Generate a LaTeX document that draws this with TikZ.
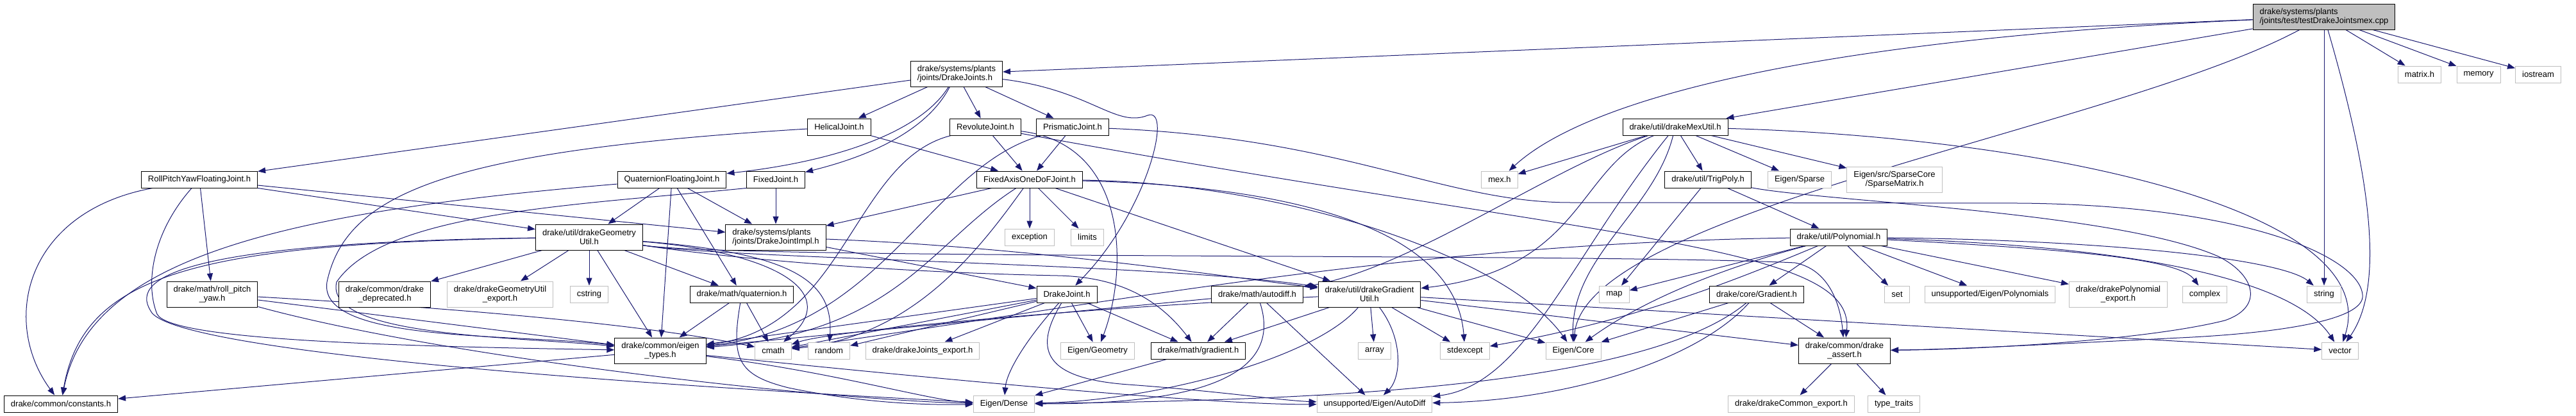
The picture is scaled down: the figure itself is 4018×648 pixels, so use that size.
\documentclass[tikz,border=0pt]{standalone}
\usepackage{fontspec}
\setmainfont{Liberation Sans}
\usetikzlibrary{arrows.meta}
\definecolor{edgec}{RGB}{25,25,112}
\definecolor{grayb}{RGB}{191,191,191}
\pgfdeclarelayer{bg}
\pgfsetlayers{bg,main}
\begin{document}
\begin{tikzpicture}[x=1pt,y=-1pt,
  nbox/.style={draw=black, fill=white, line width=1pt, font=\fontsize{13}{14.5}\selectfont,
    inner xsep=10.5pt, inner ysep=0pt, minimum height=26pt, align=center},
  ntall/.style={minimum height=40pt},
  nsys/.style={nbox, draw=grayb},
  arr/.style={draw=edgec, line width=1pt, -{Triangle[length=12pt,width=9pt]}}]
\useasboundingbox (0,0) rectangle (4018,648);

% row 0
\node[nbox, ntall, fill=grayb, align=left] (cpp) at (3625,26) {drake/systems/plants\\/joints/test/testDrakeJointsmex.cpp};
% row 1
\node[nbox, ntall, align=left] (DJs) at (1492,115) {drake/systems/plants\\/joints/DrakeJoints.h};
\node[nsys] (matrix) at (3774,116) {matrix.h};
\node[nsys] (memory) at (3866,116) {memory};
\node[nsys] (iostream) at (3959,116) {iostream};
% row 2
\node[nbox] (helical) at (1309,198) {HelicalJoint.h};
\node[nbox] (revolute) at (1537,198) {RevoluteJoint.h};
\node[nbox] (prismatic) at (1673,198) {PrismaticJoint.h};
\node[nbox] (mexutil) at (2613,198) {drake/util/drakeMexUtil.h};
% row 3
\node[nbox] (rpy) at (311,280) {RollPitchYawFloatingJoint.h};
\node[nbox] (quat) at (1048,280) {QuaternionFloatingJoint.h};
\node[nbox] (fixed) at (1210,280) {FixedJoint.h};
\node[nbox] (faodj) at (1606,280) {FixedAxisOneDoFJoint.h};
\node[nsys] (mex) at (2339,280) {mex.h};
\node[nbox] (trigpoly) at (2664,280) {drake/util/TrigPoly.h};
\node[nsys] (esparse) at (2807,280) {Eigen/Sparse};
\node[nsys, ntall] (esm) at (2955,280) {Eigen/src/SparseCore\\/SparseMatrix.h};
% row 4
\node[nbox, ntall] (geom) at (919,370) {drake/util/drakeGeometry\\Util.h};
\node[nbox, ntall, align=left] (impl) at (1210,370) {drake/systems/plants\\/joints/DrakeJointImpl.h};
\node[nsys] (exception) at (1606,370) {exception};
\node[nsys] (limits) at (1696,370) {limits};
\node[nbox] (poly) at (2868,370) {drake/util/Polynomial.h};
% row 5
\node[nbox, ntall] (rpyh) at (331,459) {drake/math/roll\_pitch\\\_yaw.h};
\node[nbox, ntall] (deprecated) at (600,459) {drake/common/drake\\\_deprecated.h};
\node[nsys, ntall] (geomexport) at (780,459) {drake/drakeGeometryUtil\\\_export.h};
\node[nsys] (cstring) at (919,459) {cstring};
\node[nbox] (quath) at (1157,459) {drake/math/quaternion.h};
\node[nbox] (dj) at (1664,459) {DrakeJoint.h};
\node[nbox] (autodiff) at (1961,459) {drake/math/autodiff.h};
\node[nbox, ntall] (gradutil) at (2136,459) {drake/util/drakeGradient\\Util.h};
\node[nsys] (map) at (2518,459) {map};
\node[nbox] (coregrad) at (2740,459) {drake/core/Gradient.h};
\node[nsys] (set) at (2959,459) {set};
\node[nsys] (polys) at (3104,459) {unsupported/Eigen/Polynomials};
\node[nsys, ntall] (polyexp) at (3304,459) {drake/drakePolynomial\\\_export.h};
\node[nsys] (complex) at (3439,459) {complex};
\node[nsys] (string) at (3625,459) {string};
% row 6
\node[nbox, ntall] (eigentypes) at (1030,547) {drake/common/eigen\\\_types.h};
\node[nsys] (cmath) at (1206,547) {cmath};
\node[nsys] (random) at (1293,547) {random};
\node[nsys] (djexport) at (1439,547) {drake/drakeJoints\_export.h};
\node[nsys] (egeom) at (1712,547) {Eigen/Geometry};
\node[nbox] (gradient) at (1869,547) {drake/math/gradient.h};
\node[nsys] (array) at (2144,547) {array};
\node[nsys] (stdexcept) at (2285,547) {stdexcept};
\node[nsys] (ecore) at (2454,547) {Eigen/Core};
\node[nbox, ntall] (assert) at (2877,547) {drake/common/drake\\\_assert.h};
\node[nsys] (vector) at (3650,547) {vector};
% row 7
\node[nbox] (constants) at (95,630) {drake/common/constants.h};
\node[nsys] (dense) at (1566,630) {Eigen/Dense};
\node[nsys] (autodiffu) at (2144,630) {unsupported/Eigen/AutoDiff};
\node[nsys] (commonexport) at (2794,630) {drake/drakeCommon\_export.h};
\node[nsys] (typetraits) at (2954,630) {type\_traits};

\begin{pgfonlayer}{bg}
% cpp
\draw[arr] (cpp) -- (DJs);
\draw[arr] (cpp) .. controls (2850,60) and (2480,150) .. (mex);
\draw[arr] (cpp) -- (mexutil);
\draw[arr] (cpp) .. controls (3300,200) and (2470,330) .. (ecore);
\draw[arr] (cpp) -- (string);
\draw[arr] (cpp) .. controls (3690,250) and (3725,440) .. (vector);
\draw[arr] (cpp) -- (matrix);
\draw[arr] (cpp) -- (memory);
\draw[arr] (cpp) -- (iostream);
% DrakeJoints.h
\draw[arr] (DJs) -- (rpy);
\draw[arr] (DJs) -- (helical);
\draw[arr] (DJs) -- (revolute);
\draw[arr] (DJs) -- (prismatic);
\draw[arr] (DJs) .. controls (1440,200) and (1320,250) .. (quat);
\draw[arr] (DJs) .. controls (1440,215) and (1330,250) .. (fixed);
\draw[arr] (DJs) .. controls (1700,140) and (1740,200) .. (1790,180) .. controls (1830,165) and (1790,330) .. (dj);
% drakeMexUtil.h
\draw[arr] (mexutil) -- (mex);
\draw[arr] (mexutil) -- (trigpoly);
\draw[arr] (mexutil) -- (esparse);
\draw[arr] (mexutil) -- (esm);
\draw[arr] (mexutil) .. controls (2420,260) and (2200,420) .. (autodiff);
\draw[arr] (mexutil) .. controls (2460,260) and (2470,420) .. (gradutil);
\draw[arr] (mexutil) .. controls (2580,330) and (2450,400) .. (ecore);
\draw[arr] (mexutil) .. controls (2450,400) and (2380,600) .. (autodiffu);
\draw[arr] (mexutil) .. controls (3200,215) and (3720,330) .. (vector);
% HelicalJoint.h
\draw[arr] (helical) -- (faodj);
\draw[arr] (helical) .. controls (700,235) and (540,300) .. (510,440) .. controls (495,535) and (800,520) .. (eigentypes);
% RevoluteJoint.h
\draw[arr] (revolute) -- (faodj);
\draw[arr] (revolute) .. controls (1330,250) and (1320,510) .. (eigentypes);
\draw[arr] (revolute) .. controls (1760,225) and (1760,420) .. (egeom);
\draw[arr] (revolute) .. controls (2500,375) and (2895,380) .. (assert);
% PrismaticJoint.h
\draw[arr] (prismatic) -- (faodj);
\draw[arr] (prismatic) .. controls (1450,260) and (1380,510) .. (eigentypes);
\draw[arr] (prismatic) .. controls (2100,215) and (2250,316) .. (2450,316) -- (3150,317)
   .. controls (3500,320) and (3680,400) .. (3685,460) .. controls (3690,500) and (3550,520) .. (3400,527)
   .. controls (3200,537) and (3050,545) .. (assert);
% TrigPoly.h
\draw[arr] (trigpoly) -- (poly);
\draw[arr] (trigpoly) -- (map);
\draw[arr] (trigpoly) .. controls (2850,315) and (3300,330) .. (3460,400)
   .. controls (3520,430) and (3530,480) .. (3470,500) .. controls (3350,530) and (3100,545) .. (assert);
% RollPitchYawFloatingJoint.h
\draw[arr] (rpy) .. controls (40,330) and (0,500) .. (constants);
\draw[arr] (rpy) .. controls (240,360) and (225,440) .. (245,490) .. controls (265,530) and (600,540) .. (eigentypes);
\draw[arr] (rpy) -- (rpyh);
\draw[arr] (rpy) -- (geom);
\draw[arr] (rpy) -- (impl);
% QuaternionFloatingJoint.h
\draw[arr] (quat) -- (geom);
\draw[arr] (quat) -- (impl);
\draw[arr] (quat) -- (quath);
\draw[arr] (quat) -- (eigentypes);
\draw[arr] (quat) .. controls (450,330) and (140,400) .. (constants);
% FixedJoint.h
\draw[arr] (fixed) -- (impl);
\draw[arr] (fixed.south west) .. controls (900,320) and (600,330) .. (525,440) .. controls (505,525) and (800,525) .. (eigentypes);
% FixedAxisOneDoFJoint.h
\draw[arr] (faodj) -- (impl);
\draw[arr] (faodj) -- (exception);
\draw[arr] (faodj) -- (limits);
\draw[arr] (faodj) .. controls (1450,380) and (1400,520) .. (eigentypes);
\draw[arr] (faodj) .. controls (1520,400) and (1420,525) .. (cmath);
\draw[arr] (faodj) -- (gradutil);
\draw[arr] (faodj) .. controls (2000,285) and (2350,400) .. (ecore);
\draw[arr] (faodj) .. controls (2000,290) and (2270,350) .. (stdexcept);
% drakeGeometryUtil.h
\draw[arr] (geom) -- (deprecated);
\draw[arr] (geom) -- (geomexport);
\draw[arr] (geom) -- (cstring);
\draw[arr] (geom) -- (quath);
\draw[arr] (geom) -- (eigentypes);
\draw[arr] (geom) .. controls (300,380) and (130,430) .. (constants);
\draw[arr] (geom) .. controls (300,378) and (200,430) .. (235,485) .. controls (260,540) and (800,590) .. (dense);
\draw[arr] (geom) .. controls (1220,395) and (1310,460) .. (cmath);
\draw[arr] (geom) .. controls (1240,395) and (1300,440) .. (random);
\draw[arr] (geom) .. controls (1150,405) and (1400,425) .. (1650,430) .. controls (1750,432) and (1810,470) .. (gradient);
\draw[arr] (geom) .. controls (1150,405) and (1800,410) .. (gradutil);
\draw[arr] (geom) .. controls (1150,405) and (2500,395) .. (2800,410) .. controls (2850,420) and (2870,470) .. (assert);
% DrakeJointImpl.h
\draw[arr] (impl) -- (dj);
\draw[arr] (impl) .. controls (1600,385) and (1900,430) .. (gradutil);
% Polynomial.h
\draw[arr] (poly) -- (map);
\draw[arr] (poly) -- (coregrad);
\draw[arr] (poly) -- (set);
\draw[arr] (poly) -- (polys);
\draw[arr] (poly) -- (polyexp);
\draw[arr] (poly) .. controls (3250,390) and (3400,405) .. (complex);
\draw[arr] (poly) .. controls (3300,375) and (3560,405) .. (string);
\draw[arr] (poly) .. controls (3350,385) and (3580,440) .. (vector);
\draw[arr] (poly) .. controls (2700,440) and (2550,500) .. (stdexcept);
\draw[arr] (poly) .. controls (2680,420) and (2560,470) .. (ecore);
\draw[arr] (poly) .. controls (2200,380) and (1750,470) .. (cmath);
% roll_pitch_yaw.h
\draw[arr] (rpyh) -- (eigentypes);
\draw[arr] (rpyh) .. controls (700,480) and (1000,505) .. (cmath);
\draw[arr] (rpyh) .. controls (700,560) and (1300,625) .. (dense);
% quaternion.h
\draw[arr] (quath) -- (eigentypes);
\draw[arr] (quath) -- (cmath);
\draw[arr] (quath) .. controls (1140,560) and (1150,585) .. (1230,605) .. controls (1350,630) and (1450,632) .. (dense);
% DrakeJoint.h
\draw[arr] (dj) -- (eigentypes);
\draw[arr] (dj) -- (cmath);
\draw[arr] (dj) -- (random);
\draw[arr] (dj) -- (djexport);
\draw[arr] (dj) -- (egeom);
\draw[arr] (dj) -- (gradient);
\draw[arr] (dj) .. controls (1600,530) and (1570,580) .. (dense);
\draw[arr] (dj) .. controls (1615,540) and (1620,590) .. (1760,600) .. controls (1900,610) and (2000,625) .. (autodiffu);
% autodiff.h
\draw[arr] (autodiff) -- (eigentypes);
\draw[arr] (autodiff) -- (gradient);
\draw[arr] (autodiff) -- (autodiffu);
\draw[arr] (autodiff) .. controls (2010,610) and (1800,630) .. (dense);
% drakeGradientUtil.h
\draw[arr] (gradutil) -- (array);
\draw[arr] (gradutil) -- (stdexcept);
\draw[arr] (gradutil) -- (ecore);
\draw[arr] (gradutil) -- (assert);
\draw[arr] (gradutil) -- (vector);
\draw[arr] (gradutil) -- (gradient);
\draw[arr] (gradutil) .. controls (2190,530) and (2185,590) .. (autodiffu);
\draw[arr] (gradutil) .. controls (2050,560) and (1800,625) .. (dense);
\draw[arr] (gradutil) .. controls (1700,480) and (1300,515) .. (cmath);
% core/Gradient.h
\draw[arr] (coregrad) -- (ecore);
\draw[arr] (coregrad) -- (assert);
\draw[arr] (coregrad) .. controls (2650,560) and (2450,625) .. (autodiffu);
\draw[arr] (coregrad) .. controls (2560,610) and (2000,625) .. (dense);
% others
\draw[arr] (gradient) -- (dense);
\draw[arr] (eigentypes) .. controls (1300,580) and (1450,625) .. (dense);
\draw[arr] (eigentypes) .. controls (1500,595) and (1900,632) .. (autodiffu);
\draw[arr] (eigentypes) -- (constants);
\draw[arr] (assert) -- (commonexport);
\draw[arr] (assert) -- (typetraits);
\end{pgfonlayer}
\end{tikzpicture}
\end{document}
